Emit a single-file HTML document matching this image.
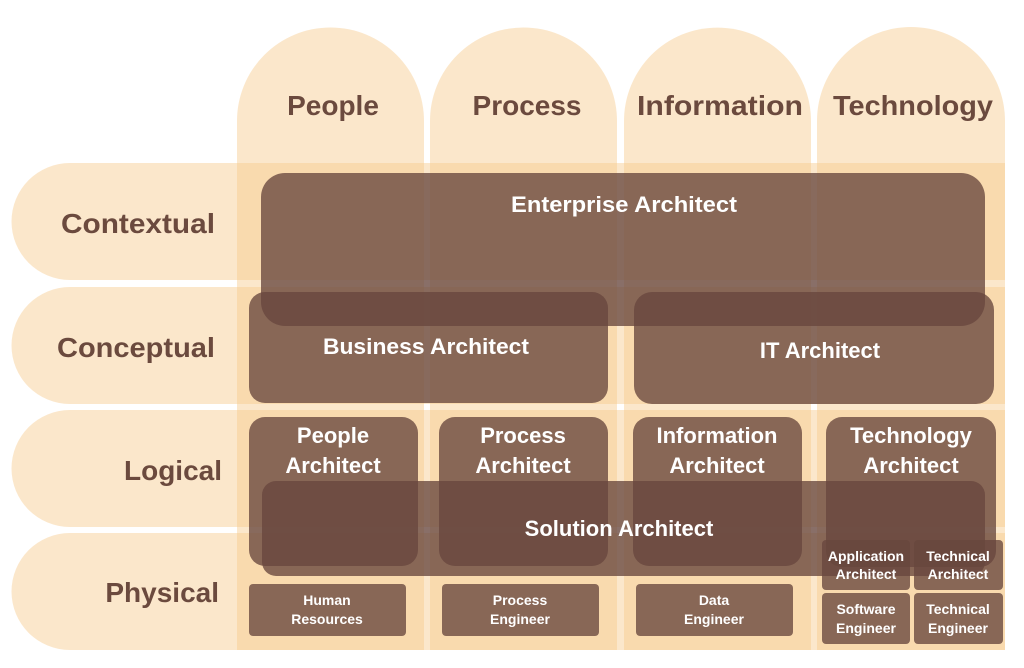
<!DOCTYPE html>
<html><head><meta charset="utf-8"><style>
html,body{margin:0;padding:0;background:#fff;}
svg{display:block;}
text{font-family:"Liberation Sans",sans-serif;font-weight:bold;text-anchor:middle;}
.h{fill:#6b4a3e;font-size:28px;}
.w{fill:#fff;font-size:22px;}
.s{fill:#fff;font-size:14px;}
</style></head><body>
<svg width="1024" height="668" viewBox="0 0 1024 668" xmlns="http://www.w3.org/2000/svg">
<g fill="rgb(246,202,140)" fill-opacity="0.45">
  <path d="M237 650 V121 A93.5 93.5 0 0 1 424 121 V650 Z"/>
  <path d="M430 650 V121 A93.5 93.5 0 0 1 617 121 V650 Z"/>
  <path d="M624 650 V121 A93.5 93.5 0 0 1 811 121 V650 Z"/>
  <path d="M817 650 V121 A94 94 0 0 1 1005 121 V650 Z"/>
  <path d="M1005 163 H70 A58.5 58.5 0 0 0 70 280 H1005 Z"/>
  <path d="M1005 287 H70 A58.5 58.5 0 0 0 70 404 H1005 Z"/>
  <path d="M1005 410 H70 A58.5 58.5 0 0 0 70 527 H1005 Z"/>
  <path d="M1005 533 H70 A58.5 58.5 0 0 0 70 650 H1005 Z"/>
</g>
<g fill="rgb(104,70,62)" fill-opacity="0.78">
  <rect x="261" y="173" width="724" height="153" rx="24"/>
  <rect x="249" y="292" width="359" height="111" rx="16"/>
  <rect x="634" y="292" width="360" height="112" rx="18"/>
  <rect x="249" y="417" width="169" height="149" rx="16"/>
  <rect x="439" y="417" width="169" height="149" rx="16"/>
  <rect x="633" y="417" width="169" height="149" rx="16"/>
  <rect x="826" y="417" width="170" height="150" rx="16"/>
  <rect x="262" y="481" width="723" height="95" rx="14"/>
  <rect x="249" y="584" width="157" height="52" rx="4"/>
  <rect x="442" y="584" width="157" height="52" rx="4"/>
  <rect x="636" y="584" width="157" height="52" rx="4"/>
  <rect x="822" y="540" width="88" height="50" rx="4"/>
  <rect x="914" y="540" width="89" height="50" rx="4"/>
  <rect x="822" y="593" width="88" height="51" rx="4"/>
  <rect x="914" y="593" width="89" height="51" rx="4"/>
</g>
<text class="h" x="333" y="115">People</text>
<text class="h" x="527" y="115">Process</text>
<text class="h" x="720" y="115" textLength="166" lengthAdjust="spacingAndGlyphs">Information</text>
<text class="h" x="913" y="115" textLength="160" lengthAdjust="spacingAndGlyphs">Technology</text>
<text class="h" x="215" y="233" style="text-anchor:end" textLength="154" lengthAdjust="spacingAndGlyphs">Contextual</text>
<text class="h" x="215" y="357" style="text-anchor:end" textLength="158" lengthAdjust="spacingAndGlyphs">Conceptual</text>
<text class="h" x="222" y="480" style="text-anchor:end">Logical</text>
<text class="h" x="219" y="602" style="text-anchor:end">Physical</text>
<text class="w" x="624" y="212" textLength="226" lengthAdjust="spacingAndGlyphs">Enterprise Architect</text>
<text class="w" x="426" y="354" textLength="206" lengthAdjust="spacingAndGlyphs">Business Architect</text>
<text class="w" x="820" y="358" font-size="25">IT Architect</text>
<text class="w" x="333" y="443">People</text><text class="w" x="333" y="473">Architect</text>
<text class="w" x="523" y="443">Process</text><text class="w" x="523" y="473">Architect</text>
<text class="w" x="717" y="443">Information</text><text class="w" x="717" y="473">Architect</text>
<text class="w" x="911" y="443">Technology</text><text class="w" x="911" y="473">Architect</text>
<text class="w" x="619" y="536">Solution Architect</text>
<text class="s" x="327" y="605">Human</text><text class="s" x="327" y="624">Resources</text>
<text class="s" x="520" y="605">Process</text><text class="s" x="520" y="624">Engineer</text>
<text class="s" x="714" y="605">Data</text><text class="s" x="714" y="624">Engineer</text>
<text class="s" x="866" y="561">Application</text><text class="s" x="866" y="579">Architect</text>
<text class="s" x="958" y="561">Technical</text><text class="s" x="958" y="579">Architect</text>
<text class="s" x="866" y="614">Software</text><text class="s" x="866" y="633">Engineer</text>
<text class="s" x="958" y="614">Technical</text><text class="s" x="958" y="633">Engineer</text>
</svg>
</body></html>
